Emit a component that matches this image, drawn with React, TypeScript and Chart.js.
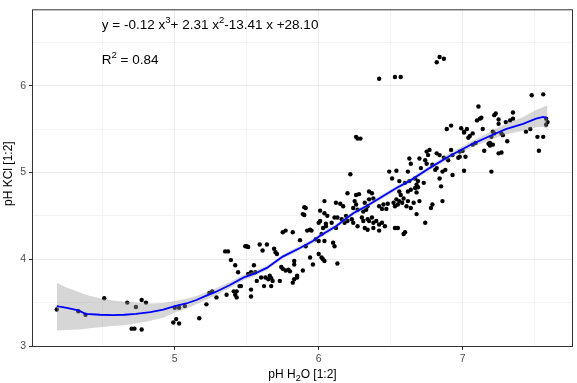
import React, { useEffect, useRef } from "react";
import { Chart, registerables } from "chart.js";

Chart.register(...registerables);

// ---- data ----
const phH2O = [
  4.18, 4.33, 4.38, 4.51, 4.67, 4.73, 4.77, 4.80, 4.70, 4.72, 4.77, 4.99, 5.01, 5.03, 5.00, 5.03, 5.07, 5.17, 5.22, 5.24,
  5.26, 5.29, 5.36, 5.35, 5.37, 5.39, 5.41, 5.42, 5.43, 5.43, 5.45, 5.46, 5.53, 5.53, 5.42, 5.44, 5.49, 5.50, 5.51, 5.55,
  5.51, 5.53, 5.56, 5.59, 5.64, 5.61, 5.57, 5.60, 5.62, 5.63, 5.65, 5.66, 5.67, 5.68, 5.67, 5.69, 5.70, 5.71, 5.73, 5.74,
  5.75, 5.77, 5.79, 5.80, 5.75, 5.77, 5.82, 5.83, 5.83, 5.83, 5.85, 5.85, 5.82, 5.87, 5.89, 5.90, 5.91, 5.89, 5.90, 5.92,
  5.94, 5.95, 5.91, 5.94, 5.96, 6.00, 6.00, 5.98, 6.00, 6.04, 6.03, 6.04, 6.04, 6.01, 6.04, 6.06, 6.05, 6.03, 6.05, 6.27,
  6.26, 6.29, 6.22, 6.49, 6.54, 6.01, 6.09, 6.02, 6.10, 6.11, 6.02, 6.13, 6.12, 6.15, 6.17, 6.20, 6.26, 6.28, 6.35, 6.37,
  6.11, 6.13, 6.16, 6.19, 6.20, 6.23, 6.24, 6.12, 6.18, 6.25, 6.26, 6.24, 6.27, 6.31, 6.33, 6.34, 6.32, 6.30, 6.31, 6.34,
  6.35, 6.37, 6.38, 6.40, 6.42, 6.44, 6.46, 6.27, 6.32, 6.34, 6.38, 6.42, 6.42, 6.45, 6.48, 6.52, 6.44, 6.35, 6.38, 6.53,
  6.55, 6.59, 6.60, 6.56, 6.57, 6.59, 6.54, 6.56, 6.53, 6.55, 6.58, 6.62, 6.64, 6.67, 6.69, 6.68, 6.62, 6.66, 6.61, 6.64,
  6.68, 6.70, 6.74, 6.73, 6.56, 6.60, 6.63, 6.67, 6.69, 6.63, 6.64, 6.70, 6.71, 6.75, 6.77, 6.76, 6.74, 6.75, 6.79, 6.81,
  6.82, 6.84, 6.86, 6.88, 6.85, 6.86, 6.79, 6.78, 6.82, 6.84, 6.89, 6.87, 6.90, 6.51, 6.62, 6.42, 6.53, 6.57, 6.84, 6.82,
  6.87, 7.48, 7.56, 7.11, 7.10, 7.12, 7.13, 7.22, 7.23, 7.25, 7.25, 7.33, 7.35, 7.35, 7.30, 6.92, 6.99, 7.01, 7.03, 7.01,
  7.05, 7.07, 7.04, 7.14, 7.21, 7.22, 7.20, 7.27, 7.28, 7.31, 7.44, 7.47, 7.58, 7.59, 7.58, 7.52, 7.56, 7.53, 7.15, 7.18,
  7.19, 7.21, 7.19, 7.25, 7.27, 7.09, 7.07, 6.98, 7.00, 7.02, 6.98, 6.97, 6.92, 6.93, 6.93, 7.01, 7.20, 6.68, 6.47,
];
const phKCl = [
  3.42, 3.40, 3.36, 3.55, 3.50, 3.45, 3.53, 3.50, 3.20, 3.20, 3.19, 3.27, 3.31, 3.26, 3.44, 3.44, 3.46, 3.32, 3.48, 3.61,
  3.63, 3.56, 3.59, 4.09, 4.09, 3.99, 3.63, 3.59, 3.56, 3.63, 3.69, 3.69, 3.65, 3.57, 3.93, 3.85, 4.15, 4.15, 4.14, 3.93,
  3.83, 3.85, 3.85, 4.17, 4.17, 4.10, 3.75, 3.79, 3.69, 3.79, 3.77, 3.81, 3.78, 3.75, 3.69, 4.12, 4.08, 4.06, 3.75, 3.91,
  3.89, 3.87, 3.88, 3.86, 4.31, 4.33, 4.31, 3.98, 3.94, 3.77, 3.79, 3.81, 3.73, 4.22, 3.87, 4.60, 4.59, 4.52, 4.51, 4.33,
  4.34, 4.33, 4.15, 4.02, 3.94, 4.42, 4.06, 4.23, 4.21, 4.21, 4.00, 3.98, 4.67, 4.56, 4.53, 4.50, 4.41, 4.36, 4.38, 5.39,
  5.41, 5.39, 4.98, 5.01, 5.02, 4.44, 4.42, 4.29, 4.19, 4.15, 4.02, 3.95, 4.65, 4.64, 4.61, 4.76, 4.74, 4.75, 4.78, 4.76,
  4.48, 4.48, 4.46, 4.50, 4.44, 4.46, 4.42, 4.36, 4.42, 4.67, 4.63, 4.59, 4.57, 4.55, 4.57, 4.61, 4.65, 4.48, 4.44, 4.46,
  4.44, 4.48, 4.42, 4.44, 4.40, 4.42, 4.38, 4.38, 4.36, 4.34, 4.36, 4.33, 4.61, 4.63, 4.64, 4.65, 4.58, 4.69, 4.70, 4.36,
  4.36, 4.29, 4.31, 4.78, 4.74, 4.70, 4.69, 4.67, 4.61, 4.63, 4.65, 4.78, 4.80, 4.82, 4.83, 4.77, 4.67, 4.65, 4.61, 4.59,
  4.52, 4.67, 4.42, 4.88, 4.90, 4.88, 4.90, 4.93, 4.90, 5.16, 5.10, 5.16, 5.05, 5.24, 5.26, 5.20, 5.14, 5.10, 5.09, 5.03,
  5.05, 4.93, 5.01, 5.03, 4.84, 4.67, 4.63, 4.59, 5.22, 5.20, 5.50, 5.17, 5.14, 4.93, 5.01, 6.08, 6.10, 6.10, 6.33, 6.27,
  6.31, 5.89, 5.90, 5.76, 5.60, 5.62, 5.63, 5.66, 5.68, 5.61, 5.56, 5.60, 5.62, 5.69, 5.58, 5.54, 5.51, 5.47, 5.50, 5.46,
  5.42, 5.45, 5.40, 5.50, 5.47, 5.45, 5.41, 5.45, 5.43, 5.36, 5.47, 5.50, 5.62, 5.58, 5.55, 5.41, 5.41, 5.25, 5.25, 5.33,
  5.34, 5.32, 5.31, 5.22, 5.23, 5.34, 5.32, 5.24, 5.25, 5.18, 5.18, 5.17, 5.26, 5.20, 4.97, 5.02, 5.01, 4.86, 4.58,
];

// fitted cubic curve and its confidence band
const fitX = [
  4.18, 4.25, 4.33, 4.38, 4.48, 4.57, 4.65, 4.73, 4.83, 4.92, 5.00, 5.08, 5.15, 5.22, 5.28, 5.38, 5.48, 5.55, 5.64,
  5.75, 5.87, 5.96, 6.01, 6.12, 6.24, 6.33, 6.42, 6.54, 6.63, 6.77, 6.91, 7.07, 7.19, 7.30, 7.42, 7.51, 7.56, 7.59,
];
const fitY = [
  3.46, 3.44, 3.41, 3.37, 3.36, 3.355, 3.36, 3.37, 3.39, 3.42, 3.46, 3.49, 3.53, 3.58, 3.62, 3.70, 3.79, 3.83, 3.90,
  4.03, 4.13, 4.21, 4.27, 4.38, 4.53, 4.61, 4.70, 4.82, 4.90, 5.05, 5.19, 5.33, 5.42, 5.50, 5.56, 5.62, 5.64, 5.63,
];
const fitLow = [
  3.18, 3.185, 3.19, 3.20, 3.215, 3.23, 3.24, 3.26, 3.29, 3.325, 3.385, 3.43, 3.48, 3.535, 3.58, 3.665, 3.76, 3.80, 3.875,
  4.005, 4.105, 4.185, 4.245, 4.355, 4.505, 4.585, 4.675, 4.795, 4.875, 5.025, 5.16, 5.295, 5.375, 5.44, 5.48, 5.52, 5.525, 5.50,
];
const fitHigh = [
  3.73, 3.67, 3.625, 3.59, 3.55, 3.525, 3.51, 3.50, 3.49, 3.495, 3.52, 3.545, 3.575, 3.62, 3.66, 3.735, 3.82, 3.86, 3.925,
  4.055, 4.155, 4.235, 4.295, 4.405, 4.555, 4.635, 4.725, 4.845, 4.925, 5.075, 5.22, 5.365, 5.465, 5.56, 5.64, 5.72, 5.755, 5.77,
];

// axes
const xTickValues = [4.5, 5, 5.5, 6, 6.5, 7, 7.5];
const xTickLabels = ["", "5", "", "6", "", "7", ""];
const yTickValues = [3, 3.5, 4, 4.5, 5, 5.5, 6, 6.5];
const yTickLabels = ["3", "", "4", "", "5", "", "6", ""];
const xRange = [4.015, 7.76];
const yRange = [3, 6.88];

// texts: [text, kind] where kind is "n" normal, "sup" superscript, "sub" subscript
const equationRuns: [string, string][] = [
  ["y = -0.12 x", "n"], ["3", "sup"], ["+ 2.31 x", "n"], ["2", "sup"], ["-13.41 x +28.10", "n"],
];
const r2Runs: [string, string][] = [["R", "n"], ["2", "sup"], [" = 0.84", "n"]];
const xTitleRuns: [string, string][] = [["pH H", "n"], ["2", "sub"], ["O [1:2]", "n"]];
const yTitle = "pH KCl [1:2]";

const FONT = '"Liberation Sans", Arial, sans-serif';

function runsWidth(ctx: CanvasRenderingContext2D, runs: [string, string][], size: number, small: number) {
  let w = 0;
  for (const [t, k] of runs) {
    ctx.font = `${k === "n" ? size : small}px ${FONT}`;
    w += ctx.measureText(t).width;
  }
  return w;
}

function drawRuns(
  ctx: CanvasRenderingContext2D,
  runs: [string, string][],
  x: number,
  y: number,
  size: number,
  small: number,
  rise: number,
  drop: number
) {
  let cx = x;
  ctx.textAlign = "left";
  ctx.textBaseline = "alphabetic";
  for (const [t, k] of runs) {
    ctx.font = `${k === "n" ? size : small}px ${FONT}`;
    const dy = k === "sup" ? -rise : k === "sub" ? drop : 0;
    ctx.fillText(t, cx, y + dy);
    cx += ctx.measureText(t).width;
  }
}

const decorPlugin = {
  id: "decor",
  afterDraw(chart: any) {
    const ctx: CanvasRenderingContext2D = chart.ctx;
    const { left, top, right, bottom } = chart.chartArea;
    ctx.save();
    // panel border
    ctx.strokeStyle = "#333333";
    ctx.lineWidth = 1;
    ctx.strokeRect(left - 0.5, top + 0.5, right - left + 1, bottom - top);
    // annotation texts
    ctx.fillStyle = "#000000";
    const ax = chart.scales.x.getPixelForValue(4.5);
    drawRuns(ctx, equationRuns, ax - 1, 29, 13.5, 9.5, 6.5, 0);
    drawRuns(ctx, r2Runs, ax - 1, 64, 13.5, 9.5, 6, 0);
    // x title
    const w = runsWidth(ctx, xTitleRuns, 12, 9);
    drawRuns(ctx, xTitleRuns, (left + right) / 2 - w / 2, 378, 12, 9, 0, 3);
    // y title
    ctx.translate(9, (top + bottom) / 2 - 4);
    ctx.rotate(-Math.PI / 2);
    ctx.font = `12px ${FONT}`;
    ctx.textAlign = "center";
    ctx.textBaseline = "middle";
    ctx.fillText(yTitle, 0, 0);
    ctx.restore();
  },
};

export default function App() {
  const ref = useRef<HTMLCanvasElement | null>(null);

  useEffect(() => {
    if (!ref.current) return;
    const points = phH2O.map((x, i) => ({ x, y: phKCl[i] }));
    const low = fitX.map((x, i) => ({ x, y: fitLow[i] }));
    const high = fitX.map((x, i) => ({ x, y: fitHigh[i] }));
    const fit = fitX.map((x, i) => ({ x, y: fitY[i] }));

    const isMajorX = (v: number) => xTickLabels[xTickValues.indexOf(v)] !== "";
    const isMajorY = (v: number) => yTickLabels[yTickValues.indexOf(v)] !== "";

    const chart = new Chart(ref.current, {
      type: "line",
      data: {
        datasets: [
          {
            type: "scatter",
            data: points,
            pointRadius: 2.2,
            pointBorderWidth: 0,
            pointBackgroundColor: "#000000",
            pointBorderColor: "#000000",
            order: 3,
          } as any,
          {
            data: low,
            borderColor: "rgba(0,0,0,0)",
            pointRadius: 0,
            fill: false,
            tension: 0,
            order: 2,
          },
          {
            data: high,
            borderColor: "rgba(0,0,0,0)",
            backgroundColor: "rgba(153,153,153,0.4)",
            pointRadius: 0,
            fill: "-1",
            tension: 0,
            order: 2,
          },
          {
            data: fit,
            borderColor: "#0000FF",
            borderWidth: 1.8,
            pointRadius: 0,
            fill: false,
            tension: 0,
            order: 1,
          },
        ],
      },
      options: {
        animation: false,
        responsive: false,
        devicePixelRatio: 1,
        layout: { padding: { top: 6, right: 5, left: 0, bottom: 0 } },
        plugins: {
          legend: { display: false },
          tooltip: { enabled: false },
          title: { display: false },
        },
        scales: {
          x: {
            type: "linear",
            min: xRange[0],
            max: xRange[1],
            afterBuildTicks: (s: any) => {
              s.ticks = xTickValues.map((v) => ({ value: v }));
            },
            afterFit: (s: any) => {
              s.height = 37;
            },
            border: { display: false },
            grid: {
              color: (c: any) => (isMajorX(c.tick?.value) ? "#EBEBEB" : "#F3F3F3"),
              lineWidth: 1,
              tickColor: (c: any) => (isMajorX(c.tick?.value) ? "#333333" : "rgba(0,0,0,0)"),
              tickLength: 4,
              drawTicks: true,
            },
            ticks: {
              autoSkip: false,
              maxRotation: 0,
              padding: 3,
              color: "#4D4D4D",
              font: { family: FONT, size: 10.5 },
              callback: (v: any) => {
                const i = xTickValues.indexOf(Number(v));
                return i >= 0 ? xTickLabels[i] : "";
              },
            },
          },
          y: {
            type: "linear",
            min: yRange[0],
            max: yRange[1],
            afterBuildTicks: (s: any) => {
              s.ticks = yTickValues.map((v) => ({ value: v }));
            },
            afterFit: (s: any) => {
              s.width = 33;
            },
            border: { display: false },
            grid: {
              color: (c: any) => (isMajorY(c.tick?.value) ? "#EBEBEB" : "#F3F3F3"),
              lineWidth: 1,
              tickColor: (c: any) => (isMajorY(c.tick?.value) ? "#333333" : "rgba(0,0,0,0)"),
              tickLength: 4,
              drawTicks: true,
            },
            ticks: {
              autoSkip: false,
              padding: 3,
              color: "#4D4D4D",
              font: { family: FONT, size: 10.5 },
              callback: (v: any) => {
                const i = yTickValues.indexOf(Number(v));
                return i >= 0 ? yTickLabels[i] : "";
              },
            },
          },
        },
      },
      plugins: [decorPlugin],
    });
    return () => chart.destroy();
  }, []);

  return (
    <div style={{ position: "fixed", left: 0, top: 0, width: 577, height: 383, background: "#fff" }}>
      <canvas ref={ref} width={577} height={383} style={{ display: "block" }} />
    </div>
  );
}
